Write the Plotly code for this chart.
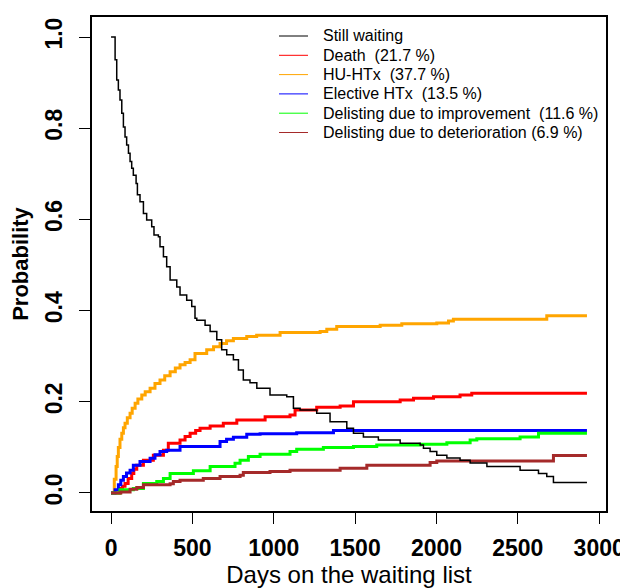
import plotly.graph_objects as go

# ---- data ----
waiting_days = [0, 14, 25, 35, 45, 55, 66, 76, 86, 96, 107, 117, 127, 137, 154, 162, 178, 199, 219, 250,
                264, 291, 301, 322, 342, 363, 404, 424, 465, 496, 516, 527, 578, 609, 650, 680, 711, 752,
                783, 813, 854, 896, 977, 1080, 1121, 1162, 1264, 1346, 1449, 1490, 1551, 1643, 1777,
                1900, 1920, 1961, 2002, 2064, 2145, 2207, 2310, 2514, 2627, 2678, 2719, 2925]
waiting_prob = [1.0, 1.0, 0.950, 0.906, 0.884, 0.862, 0.833, 0.803, 0.781, 0.763, 0.745, 0.727, 0.712,
                0.697, 0.679, 0.654, 0.639, 0.613, 0.599, 0.584, 0.566, 0.562, 0.540, 0.518, 0.496,
                0.467, 0.452, 0.434, 0.423, 0.409, 0.383, 0.379, 0.368, 0.354, 0.336, 0.314, 0.303,
                0.292, 0.270, 0.248, 0.242, 0.230, 0.215, 0.211, 0.186, 0.182, 0.175, 0.156, 0.142,
                0.131, 0.123, 0.116, 0.109, 0.105, 0.098, 0.091, 0.083, 0.077, 0.072, 0.066, 0.058,
                0.050, 0.043, 0.036, 0.023, 0.023]

death_days = [0, 25, 55, 70, 86, 105, 127, 140, 158, 199, 260, 322, 352, 424, 455, 486, 520, 547, 609,
              690, 773, 947, 1100, 1131, 1264, 1408, 1490, 1777, 1859, 1982, 2145, 2217, 2925]
death_prob = [0, 0, 0.010, 0.015, 0.021, 0.032, 0.043, 0.052, 0.061, 0.072, 0.083, 0.094, 0.109, 0.116,
              0.124, 0.131, 0.137, 0.142, 0.147, 0.153, 0.160, 0.167, 0.171, 0.182, 0.188, 0.191,
              0.200, 0.204, 0.208, 0.211, 0.215, 0.219, 0.219]

huhtx_days = [0, 14, 20, 31, 38, 45, 55, 66, 76, 86, 100, 117, 130, 148, 165, 189, 210, 240, 270, 301,
              330, 363, 395, 424, 455, 486, 516, 588, 630, 670, 710, 752, 834, 895, 1039, 1285, 1326,
              1387, 1654, 1787, 2002, 2074, 2104, 2678, 2925]
huhtx_prob = [0, 0, 0.030, 0.058, 0.080, 0.100, 0.118, 0.131, 0.143, 0.153, 0.165, 0.175, 0.186, 0.197,
              0.206, 0.215, 0.222, 0.230, 0.240, 0.248, 0.257, 0.266, 0.274, 0.281, 0.286, 0.292,
              0.306, 0.314, 0.321, 0.328, 0.334, 0.339, 0.343, 0.346, 0.352, 0.354, 0.359, 0.365,
              0.368, 0.371, 0.373, 0.377, 0.381, 0.389, 0.389]

elective_days = [0, 15, 25, 45, 60, 76, 95, 117, 137, 178, 240, 270, 301, 342, 424, 629, 670, 710, 752,
                 834, 916, 1141, 1367, 2925]
elective_prob = [0, 0, 0.007, 0.018, 0.028, 0.036, 0.044, 0.050, 0.061, 0.069, 0.076, 0.084, 0.091,
                 0.094, 0.102, 0.102, 0.113, 0.118, 0.122, 0.129, 0.130, 0.132, 0.137, 0.137]

improve_days = [0, 40, 55, 137, 199, 281, 322, 363, 506, 609, 762, 793, 844, 916, 1100, 1141, 1305, 1490,
                1633, 1900, 2064, 2207, 2248, 2514, 2627, 2925]
improve_prob = [0, 0, 0.007, 0.010, 0.021, 0.025, 0.032, 0.043, 0.049, 0.058, 0.065, 0.072, 0.080, 0.085,
                0.091, 0.096, 0.100, 0.102, 0.105, 0.107, 0.110, 0.116, 0.119, 0.123, 0.131, 0.131]

deter_days = [0, 60, 117, 158, 199, 363, 383, 424, 567, 670, 793, 813, 977, 1100, 1408, 1572, 1961, 2002,
              2719, 2925]
deter_prob = [0, 0.002, 0.008, 0.012, 0.018, 0.020, 0.025, 0.028, 0.032, 0.036, 0.039, 0.045, 0.047,
              0.050, 0.054, 0.061, 0.067, 0.070, 0.082, 0.082]

series_names = ["Still waiting", "Death  (21.7 %)", "HU-HTx  (37.7 %)", "Elective HTx  (13.5 %)",
                "Delisting due to improvement  (11.6 %)", "Delisting due to deterioration (6.9 %)"]
series_colors = ["#000000", "#FF0000", "#FFA500", "#0000FF", "#00FF00", "#A52A2A"]

x_ticks = [0, 500, 1000, 1500, 2000, 2500, 3000]
y_ticks = [0.0, 0.2, 0.4, 0.6, 0.8, 1.0]

# ---- figure ----
series = [
    (waiting_days, waiting_prob),
    (death_days, death_prob),
    (huhtx_days, huhtx_prob),
    (elective_days, elective_prob),
    (improve_days, improve_prob),
    (deter_days, deter_prob),
]
widths = [1.5, 3, 3, 3, 3, 3]
draw_order = [2, 1, 3, 4, 5, 0]

fig = go.Figure()
for i in draw_order:
    d, p = series[i]
    fig.add_trace(go.Scatter(x=d, y=p, mode="lines", line=dict(color=series_colors[i], width=widths[i],
                                                               shape="hv"),
                             name=series_names[i], showlegend=False, hoverinfo="skip"))

FONT = "Liberation Sans, Arial, sans-serif"

# the page body has an 8px margin, so the figure is 8px smaller and all offsets shift by 8
OFF = 8
W, H = 628 - OFF, 588 - OFF
L, T = 92 - OFF, 17 - OFF
R = W - (606 - OFF)
B = H - (511 - OFF)
pw, ph = W - L - R, H - T - B

# manual legend (R style, no box)
leg_x0, leg_x1, leg_tx = 279 - OFF, 308 - OFF, 321 - OFF
leg_y0, leg_dy = 36 - OFF, 19.3
for k, (nm, col) in enumerate(zip(series_names, series_colors)):
    yc = leg_y0 + k * leg_dy
    yp = (H - B - yc) / ph
    fig.add_shape(type="line", xref="paper", yref="paper",
                  x0=(leg_x0 - L) / pw, x1=(leg_x1 - L) / pw, y0=yp, y1=yp,
                  line=dict(color=col, width=1))
    fig.add_annotation(xref="paper", yref="paper", x=(leg_tx - L) / pw, y=yp, text=nm,
                       showarrow=False, xanchor="left", yanchor="middle",
                       font=dict(family=FONT, size=16, color="black"))

fig.update_layout(
    width=W, height=H,
    margin=dict(l=L, r=R, t=T, b=B, autoexpand=False),
    paper_bgcolor="white", plot_bgcolor="white",
    showlegend=False,
    font=dict(family=FONT, color="black"),
    xaxis=dict(range=[-117, 3042], tickvals=x_ticks, ticktext=[str(v) for v in x_ticks],
               automargin=False,
               showgrid=False, zeroline=False, showline=True, mirror=True, linecolor="black",
               linewidth=1.5, ticks="outside", ticklen=11, tickwidth=1, tickcolor="black",
               tickfont=dict(family=FONT, size=23, weight="bold"), ticklabelstandoff=5,
               title=dict(text="Days on the waiting list", font=dict(family=FONT, size=24),
                          standoff=10)),
    yaxis=dict(range=[-0.0395, 1.044], tickvals=y_ticks, ticktext=["%.1f" % v for v in y_ticks],
               automargin=False,
               showgrid=False, zeroline=False, showline=True, mirror=True, linecolor="black",
               linewidth=1.5, ticks="outside", ticklen=11, tickwidth=1, tickcolor="black",
               tickangle=-90, tickfont=dict(family=FONT, size=23, weight="bold"),
               ticklabelstandoff=8,
               title=dict(text="Probability", font=dict(family=FONT, size=22, weight="bold"),
                          standoff=8)),
)

fig.write_html("out.html")
